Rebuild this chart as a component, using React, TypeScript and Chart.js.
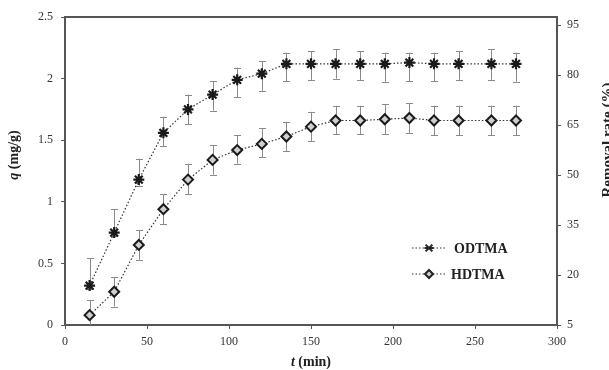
import React, { useEffect, useRef } from "react";
import { Chart, registerables } from "chart.js";

Chart.register(...registerables);

// ---- data ----
const times = [15, 30, 45, 60, 75, 90, 105, 120, 135, 150, 165, 180, 195, 210, 225, 240, 260, 275];
const odtmaQ = [0.32, 0.75, 1.18, 1.56, 1.75, 1.87, 1.99, 2.04, 2.12, 2.12, 2.12, 2.12, 2.12, 2.13, 2.12, 2.12, 2.12, 2.12];
const odtmaErrUp = [0.22, 0.19, 0.17, 0.13, 0.12, 0.11, 0.10, 0.10, 0.09, 0.10, 0.12, 0.10, 0.09, 0.08, 0.09, 0.10, 0.12, 0.09];
const odtmaErrDown = [0.03, 0.03, 0.05, 0.11, 0.12, 0.13, 0.14, 0.14, 0.14, 0.13, 0.12, 0.13, 0.145, 0.15, 0.14, 0.13, 0.13, 0.145];
const hdtmaQ = [0.08, 0.27, 0.65, 0.94, 1.18, 1.34, 1.42, 1.47, 1.53, 1.61, 1.66, 1.66, 1.67, 1.68, 1.66, 1.66, 1.66, 1.66];
const hdtmaErrUp = [0.12, 0.12, 0.12, 0.12, 0.13, 0.12, 0.12, 0.13, 0.12, 0.12, 0.12, 0.12, 0.12, 0.12, 0.12, 0.12, 0.12, 0.12];
const hdtmaErrDown = [0.12, 0.12, 0.12, 0.12, 0.12, 0.12, 0.11, 0.11, 0.12, 0.12, 0.11, 0.11, 0.12, 0.12, 0.12, 0.12, 0.12, 0.12];
const seriesNames = ["ODTMA", "HDTMA"];
const xTicks = [0, 50, 100, 150, 200, 250, 300];
const qTicks = [0, 0.5, 1, 1.5, 2, 2.5];
const removalTicks = [5, 20, 35, 50, 65, 80, 95];
const removalRange = [5, 97.4];

const FONT = "'Liberation Serif', 'Times New Roman', serif";
const AXIS_COLOR = "#555";
const TICK_COLOR = "#333";

const errors = [
  { up: odtmaErrUp, down: odtmaErrDown },
  { up: hdtmaErrUp, down: hdtmaErrDown },
];

const errorBarPlugin = {
  id: "errorBars",
  beforeDatasetsDraw(chart: any) {
    const { ctx, chartArea } = chart;
    const yScale = chart.scales.y;
    ctx.save();
    ctx.beginPath();
    ctx.rect(chartArea.left, chartArea.top, chartArea.right - chartArea.left, chartArea.bottom - chartArea.top);
    ctx.clip();
    ctx.strokeStyle = "#8a8a8a";
    ctx.lineWidth = 1;
    chart.data.datasets.forEach((ds: any, i: number) => {
      const meta = chart.getDatasetMeta(i);
      const err = errors[i];
      meta.data.forEach((pt: any, j: number) => {
        const v = ds.data[j].y;
        const x = Math.round(pt.x) + 0.5;
        const yTop = yScale.getPixelForValue(v + err.up[j]);
        const yBot = yScale.getPixelForValue(v - err.down[j]);
        ctx.beginPath();
        ctx.moveTo(x, yTop);
        ctx.lineTo(x, yBot);
        ctx.moveTo(x - 3.5, Math.round(yTop) + 0.5);
        ctx.lineTo(x + 3.5, Math.round(yTop) + 0.5);
        ctx.moveTo(x - 3.5, Math.round(yBot) + 0.5);
        ctx.lineTo(x + 3.5, Math.round(yBot) + 0.5);
        ctx.stroke();
      });
    });
    ctx.restore();
  },
};

function drawStar(ctx: CanvasRenderingContext2D, x: number, y: number, r: number) {
  ctx.beginPath();
  ctx.moveTo(x - r, y);
  ctx.lineTo(x + r, y);
  const d = r * 0.75;
  ctx.moveTo(x - d, y - d);
  ctx.lineTo(x + d, y + d);
  ctx.moveTo(x - d, y + d);
  ctx.lineTo(x + d, y - d);
  ctx.stroke();
}

function drawDiamond(ctx: CanvasRenderingContext2D, x: number, y: number, r: number) {
  ctx.beginPath();
  ctx.moveTo(x, y - r);
  ctx.lineTo(x + r, y);
  ctx.lineTo(x, y + r);
  ctx.lineTo(x - r, y);
  ctx.closePath();
  ctx.fill();
  ctx.stroke();
}

const decorPlugin = {
  id: "decor",
  afterDraw(chart: any) {
    const { ctx, chartArea } = chart;
    ctx.save();
    // frame top line
    ctx.strokeStyle = AXIS_COLOR;
    ctx.lineWidth = 2;
    ctx.beginPath();
    ctx.moveTo(chartArea.left, chartArea.top);
    ctx.lineTo(chartArea.right, chartArea.top);
    ctx.stroke();

    ctx.fillStyle = "#222";
    // left title: q (mg/g)
    ctx.save();
    ctx.translate(14, 155);
    ctx.rotate(-Math.PI / 2);
    ctx.textBaseline = "middle";
    const italic = "italic bold 14px " + FONT;
    const bold = "bold 14px " + FONT;
    ctx.font = italic;
    const w1 = ctx.measureText("q").width;
    ctx.font = bold;
    const w2 = ctx.measureText(" (mg/g)").width;
    let sx = -(w1 + w2) / 2;
    ctx.textAlign = "left";
    ctx.font = italic;
    ctx.fillText("q", sx, 0);
    ctx.font = bold;
    ctx.fillText(" (mg/g)", sx + w1, 0);
    ctx.restore();

    // bottom title: t (min)
    ctx.save();
    ctx.textBaseline = "middle";
    ctx.font = italic;
    const t1 = ctx.measureText("t").width;
    ctx.font = bold;
    const t2 = ctx.measureText(" (min)").width;
    const cx = (chartArea.left + chartArea.right) / 2;
    let bx = cx - (t1 + t2) / 2;
    ctx.textAlign = "left";
    ctx.font = italic;
    ctx.fillText("t", bx, 362);
    ctx.font = bold;
    ctx.fillText(" (min)", bx + t1, 362);
    ctx.restore();

    // right title: Removal rate (%)
    ctx.save();
    ctx.translate(608, 140);
    ctx.rotate(-Math.PI / 2);
    ctx.textAlign = "center";
    ctx.textBaseline = "middle";
    ctx.font = "bold 15px " + FONT;
    ctx.fillText("Removal rate (%)", 0, 0);
    ctx.restore();

    // legend
    const rows = [
      { y: 248, kind: "star" },
      { y: 274, kind: "diamond" },
    ];
    rows.forEach((row, i) => {
      ctx.save();
      ctx.strokeStyle = "#333";
      ctx.lineWidth = 1.2;
      ctx.setLineDash([1.5, 2]);
      ctx.beginPath();
      ctx.moveTo(412, row.y);
      ctx.lineTo(447, row.y);
      ctx.stroke();
      ctx.setLineDash([]);
      ctx.lineWidth = 2;
      ctx.strokeStyle = "#222";
      ctx.fillStyle = "#cfcfcf";
      if (row.kind === "star") drawStar(ctx, 429, row.y, 4.5);
      else drawDiamond(ctx, 429, row.y, 4);
      ctx.fillStyle = "#222";
      ctx.font = "bold 14px " + FONT;
      ctx.textAlign = "left";
      ctx.textBaseline = "middle";
      ctx.fillText(seriesNames[i], i === 0 ? 454 : 451, row.y + 1);
      ctx.restore();
    });
    ctx.restore();
  },
};

function tickCfg(padding: number) {
  return {
    color: TICK_COLOR,
    font: { family: FONT, size: 12 },
    padding,
  };
}

const gridCfg = {
  display: true,
  drawOnChartArea: false,
  drawTicks: true,
  tickLength: 4,
  tickColor: AXIS_COLOR,
  tickWidth: 1,
};

const borderCfg = { display: true, color: AXIS_COLOR, width: 2 };

export default function App() {
  const ref = useRef<HTMLCanvasElement | null>(null);

  useEffect(() => {
    if (!ref.current) return;
    const chart = new Chart(ref.current, {
      type: "line",
      data: {
        datasets: [
          {
            label: seriesNames[0],
            data: times.map((t, i) => ({ x: t, y: odtmaQ[i] })),
            borderColor: "#333",
            borderWidth: 1.2,
            borderDash: [1.5, 2],
            pointStyle: "star",
            pointRadius: 5.5,
            pointBorderWidth: 2.2,
            pointBorderColor: "#1a1a1a",
            pointBackgroundColor: "#1a1a1a",
            fill: false,
            tension: 0,
          },
          {
            label: seriesNames[1],
            data: times.map((t, i) => ({ x: t, y: hdtmaQ[i] })),
            borderColor: "#333",
            borderWidth: 1.2,
            borderDash: [1.5, 2],
            pointStyle: "rectRot",
            pointRadius: 5,
            pointBorderWidth: 2,
            pointBorderColor: "#1a1a1a",
            pointBackgroundColor: "#cfcfcf",
            fill: false,
            tension: 0,
          },
        ],
      },
      options: {
        responsive: false,
        animation: false,
        devicePixelRatio: 1,
        layout: { padding: { top: 17, left: 0, right: 0, bottom: 0 } },
        plugins: {
          legend: { display: false },
          tooltip: { enabled: false },
        },
        scales: {
          x: {
            type: "linear",
            position: "bottom",
            min: xTicks[0],
            max: xTicks[xTicks.length - 1],
            afterBuildTicks: (s: any) => {
              s.ticks = xTicks.map((v) => ({ value: v }));
            },
            afterFit: (s: any) => {
              s.height = 45;
            },
            ticks: { ...tickCfg(6), maxRotation: 0 },
            grid: gridCfg,
            border: borderCfg,
          },
          y: {
            type: "linear",
            position: "left",
            min: qTicks[0],
            max: qTicks[qTicks.length - 1],
            afterBuildTicks: (s: any) => {
              s.ticks = qTicks.map((v) => ({ value: v }));
            },
            afterFit: (s: any) => {
              s.width = 65;
            },
            ticks: { ...tickCfg(8), callback: (v: any) => String(v) },
            grid: gridCfg,
            border: borderCfg,
          },
          y1: {
            type: "linear",
            position: "right",
            min: removalRange[0],
            max: removalRange[1],
            afterBuildTicks: (s: any) => {
              s.ticks = removalTicks.map((v) => ({ value: v }));
            },
            afterFit: (s: any) => {
              s.width = 52;
            },
            ticks: { ...tickCfg(6), callback: (v: any) => String(v) },
            grid: gridCfg,
            border: borderCfg,
          },
        },
      } as any,
      plugins: [errorBarPlugin, decorPlugin],
    });
    return () => chart.destroy();
  }, []);

  return (
    <div style={{ position: "fixed", left: 0, top: 0, width: 609, height: 370, background: "#fff" }}>
      <canvas ref={ref} width={609} height={370} style={{ width: 609, height: 370 }} />
    </div>
  );
}
